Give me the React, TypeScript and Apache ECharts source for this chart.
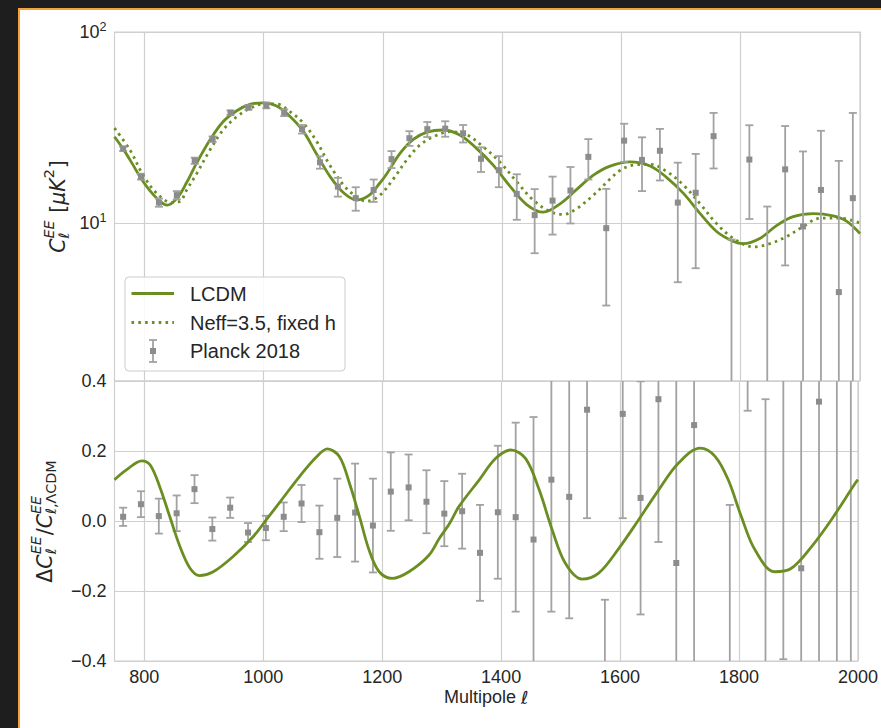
import React, { useEffect, useRef } from 'react';
import * as echarts from 'echarts';

// ---------- data ----------
const ell = [764.5, 794.5, 824.5, 854.5, 884.5, 914.5, 944.5, 974.5, 1004.5, 1034.5, 1064.5, 1094.5, 1124.5, 1154.5, 1184.5, 1214.5, 1244.5, 1274.5, 1304.5, 1334.5, 1364.5, 1394.5, 1424.5, 1454.5, 1484.5, 1514.5, 1544.5, 1574.5, 1604.5, 1634.5, 1664.5, 1694.5, 1724.5, 1754.5, 1784.5, 1814.5, 1844.5, 1874.5, 1904.5, 1934.5, 1964.5, 1988];
const clEE = [24.5, 17.5, 12.8, 14.0, 21.2, 27.5, 37.8, 40.3, 41.3, 37.8, 31.0, 20.8, 15.5, 13.5, 14.9, 21.6, 27.8, 31.0, 31.2, 29.5, 21.7, 18.9, 14.2, 11.0, 13.1, 14.8, 22.2, 9.4, 27.0, 21.4, 23.9, 12.8, 14.4, 28.5, -1.7, 21.5, 0.2, 19.1, 9.6, 14.9, 4.35, 13.5];
const clErr = [0.65, 0.62, 0.63, 0.69, 0.8, 0.92, 1.06, 1.12, 1.47, 1.53, 1.6, 1.55, 1.75, 1.9, 2.0, 2.2, 2.45, 2.8, 2.9, 3.1, 3.2, 3.5, 3.8, 4.05, 4.4, 4.85, 5.3, 5.7, 6.1, 6.7, 7.2, 7.9, 8.6, 9.2, 9.9, 11.0, 12.0, 13.1, 14.1, 15.5, 16.8, 24.2];
const resid = [0.012, 0.048, 0.014, 0.022, 0.091, -0.023, 0.038, -0.033, -0.02, 0.012, 0.05, -0.032, 0.009, 0.024, -0.013, 0.084, 0.096, 0.055, 0.021, 0.028, -0.091, 0.025, 0.011, -0.053, 0.118, 0.069, 0.318, -0.515, 0.306, 0.066, 0.348, -0.12, 0.274, 2.17, -1.21, 1.75, -0.98, 0.9, -0.135, 0.341, -0.59, 0.47];
const residErr = [0.026, 0.037, 0.05, 0.051, 0.04, 0.033, 0.029, 0.027, 0.035, 0.041, 0.053, 0.076, 0.112, 0.14, 0.134, 0.112, 0.094, 0.09, 0.093, 0.107, 0.137, 0.19, 0.27, 0.35, 0.377, 0.347, 0.31, 0.29, 0.298, 0.333, 0.408, 0.545, 0.76, 1.0, 1.256, 1.435, 1.328, 1.295, 1.27, 1.4, 1.57, 2.6];

const lcdmEll = [750, 765, 780, 795, 810, 825, 838, 855, 871, 888, 910, 932, 955, 977, 1000, 1022, 1044, 1067, 1089, 1111, 1134, 1156, 1176, 1195, 1206, 1229, 1251, 1274, 1301, 1329, 1357, 1385, 1413, 1441, 1469, 1497, 1525, 1553, 1580, 1614, 1648, 1676, 1704, 1732, 1760, 1788, 1804, 1832, 1860, 1888, 1922, 1955, 1978, 2000];
const lcdmCl = [28.3, 24.3, 20.4, 17.0, 14.7, 13.1, 12.4, 13.5, 16.3, 20.7, 27.2, 33.9, 38.7, 41.8, 42.6, 41.0, 36.2, 30.1, 22.9, 17.6, 14.4, 13.2, 13.9, 16.2, 18.0, 23.2, 27.4, 29.9, 30.7, 28.9, 24.6, 20.1, 15.6, 12.5, 11.4, 12.6, 15.0, 17.8, 19.8, 20.9, 19.9, 17.3, 14.3, 11.2, 9.0, 8.0, 7.8, 8.3, 9.7, 10.8, 11.2, 10.9, 10.2, 8.8];

const neffEll = [750, 776, 798, 821, 846, 860, 871, 888, 910, 932, 955, 977, 1000, 1022, 1044, 1067, 1089, 1111, 1134, 1156, 1173, 1195, 1218, 1240, 1262, 1285, 1313, 1341, 1368, 1396, 1424, 1452, 1480, 1503, 1525, 1553, 1581, 1598, 1620, 1648, 1676, 1704, 1732, 1760, 1788, 1821, 1849, 1877, 1905, 1933, 1966, 2000];
const neffCl = [31.4, 24.1, 17.8, 14.3, 12.8, 13.0, 14.9, 18.2, 24.1, 30.7, 36.0, 39.8, 42.0, 42.0, 38.3, 33.3, 26.7, 20.1, 15.8, 13.7, 13.0, 14.0, 17.1, 21.4, 25.6, 28.3, 30.1, 28.9, 25.1, 20.9, 16.5, 13.2, 11.5, 11.1, 11.9, 14.0, 17.0, 18.9, 20.1, 20.3, 18.6, 15.8, 12.6, 9.9, 8.3, 7.5, 7.8, 8.5, 9.6, 10.6, 10.6, 10.0];

const diffEll = [750, 770, 796, 810, 826, 843, 860, 877, 893, 916, 949, 983, 1005, 1033, 1061, 1089, 1108, 1128, 1145, 1162, 1178, 1195, 1217, 1245, 1279, 1296, 1313, 1329, 1363, 1391, 1416, 1441, 1464, 1486, 1508, 1536, 1564, 1598, 1631, 1665, 1698, 1735, 1760, 1782, 1804, 1827, 1860, 1888, 1922, 1955, 1997, 2000];
const diffVal = [0.118, 0.146, 0.172, 0.16, 0.098, 0.012, -0.073, -0.135, -0.156, -0.145, -0.102, -0.045, 0.003, 0.065, 0.127, 0.182, 0.206, 0.184, 0.108, 0.012, -0.083, -0.145, -0.164, -0.145, -0.097, -0.05, -0.008, 0.041, 0.117, 0.179, 0.203, 0.179, 0.089, -0.026, -0.121, -0.166, -0.149, -0.078, 0.003, 0.089, 0.165, 0.208, 0.184, 0.117, 0.012, -0.083, -0.145, -0.135, -0.073, 0.003, 0.112, 0.118];

const xTicks = [800, 1000, 1200, 1400, 1600, 1800, 2000];
const legendLabels = ['LCDM', 'Neff=3.5, fixed h', 'Planck 2018'];

// ---------- style ----------
const GREEN = '#6b8e23';
const GRID = '#cfcfcf';
const BAR = '#a2a2a2';
const MARK = '#8c8c8c';
const TXT = '#262626';
const SANS = '"Liberation Sans", Arial, sans-serif';
const MATH = '"DejaVu Sans"';
const CLEAR = 'rgba(0,0,0,0)';

const measureCtx = typeof document !== 'undefined' ? document.createElement('canvas').getContext('2d') : null;
function mFont(size: number, it?: boolean) {
  return `${it ? 'italic ' : ''}${size}px ${MATH}`;
}
function measure(t: string, size: number, it?: boolean) {
  if (!measureCtx) return t.length * size * 0.6;
  measureCtx.font = mFont(size, it);
  return measureCtx.measureText(t).width;
}

type Seg = { t: string; it?: boolean };
type Part = { main?: Seg; sup?: Seg[]; sub?: Seg[] };

function mathLabel(parts: Part[], size: number, cx: number, cy: number) {
  const small = size * 0.7;
  const supShift = -size * 0.42;
  const subShift = size * 0.3;
  const items: any[] = [];
  let x = 0;
  for (const p of parts) {
    if (p.main) {
      items.push({ t: p.main.t, x, y: 0, font: mFont(size, p.main.it) });
      x += measure(p.main.t, size, p.main.it);
    } else {
      let ws = 0;
      let wb = 0;
      for (const s of p.sup || []) {
        items.push({ t: s.t, x: x + ws, y: supShift, font: mFont(small, s.it) });
        ws += measure(s.t, small, s.it);
      }
      for (const s of p.sub || []) {
        items.push({ t: s.t, x: x + wb, y: subShift, font: mFont(small, s.it) });
        wb += measure(s.t, small, s.it);
      }
      x += Math.max(ws, wb) + 1;
    }
  }
  const total = x;
  return {
    type: 'group',
    x: cx,
    y: cy,
    rotation: Math.PI / 2,
    z: 100,
    children: items.map((it) => ({
      type: 'text',
      x: it.x - total / 2,
      y: it.y,
      style: { text: it.t, font: it.font, fill: TXT, align: 'left', verticalAlign: 'middle' },
    })),
  };
}

function makeErr(isLog: boolean) {
  return (params: any, api: any) => {
    const x = api.value(0);
    const v = api.value(1);
    const e = api.value(2);
    const hi = v + e;
    let lo = v - e;
    if (isLog && lo <= 0) lo = 1e-3;
    const a = api.coord([x, hi]);
    const b = api.coord([x, lo]);
    const cw = 4;
    const style = { stroke: BAR, lineWidth: 1.8 };
    return {
      type: 'group',
      children: [
        { type: 'line', shape: { x1: a[0], y1: a[1], x2: b[0], y2: b[1] }, style },
        { type: 'line', shape: { x1: a[0] - cw, y1: a[1], x2: a[0] + cw, y2: a[1] }, style },
        { type: 'line', shape: { x1: b[0] - cw, y1: b[1], x2: b[0] + cw, y2: b[1] }, style },
      ],
    };
  };
}

export default function App() {
  const ref = useRef<HTMLDivElement>(null);
  useEffect(() => {
    document.documentElement.style.overflow = 'hidden';
    document.body.style.margin = '0';
    document.body.style.overflow = 'hidden';
    if (!ref.current) return;
    const chart = echarts.init(ref.current, null, { renderer: 'svg' });

    const xCommon = {
      type: 'value',
      min: 750,
      max: 2000,
      interval: 50,
      axisLine: { show: false },
      axisTick: { show: false },
      splitLine: { show: true, lineStyle: { color: [CLEAR, GRID, CLEAR, CLEAR], width: 1.2 } },
    };

    const topLabel = mathLabel(
      [
        { main: { t: 'C', it: true } },
        { sup: [{ t: 'EE', it: true }], sub: [{ t: 'ℓ', it: true }] },
        { main: { t: ' [' } },
        { main: { t: 'μK', it: true } },
        { sup: [{ t: '2' }] },
        { main: { t: ']' } },
      ],
      20.5,
      58,
      206.5
    );
    const botLabel = mathLabel(
      [
        { main: { t: 'Δ' } },
        { main: { t: 'C', it: true } },
        { sup: [{ t: 'EE', it: true }], sub: [{ t: 'ℓ', it: true }] },
        { main: { t: '/' } },
        { main: { t: 'C', it: true } },
        { sup: [{ t: 'EE', it: true }], sub: [{ t: 'ℓ', it: true }, { t: ',ΛCDM' }] },
      ],
      20.5,
      45,
      521
    );

    const lx = 131.5;
    const lx2 = 174;
    const rows = [293.5, 322.5, 351];
    const legend = [
      {
        type: 'rect',
        z: 90,
        shape: { x: 125, y: 277, width: 220, height: 94, r: 4 },
        style: { fill: 'rgba(255,255,255,0.85)', stroke: '#cccccc', lineWidth: 1 },
      },
      { type: 'line', z: 91, shape: { x1: lx, y1: rows[0], x2: lx2, y2: rows[0] }, style: { stroke: GREEN, lineWidth: 2.8 } },
      {
        type: 'line',
        z: 91,
        shape: { x1: lx, y1: rows[1], x2: lx2, y2: rows[1] },
        style: { stroke: GREEN, lineWidth: 2.8, lineDash: [2.6, 4.2] },
      },
      { type: 'line', z: 91, shape: { x1: 153, y1: rows[2] - 11, x2: 153, y2: rows[2] + 11 }, style: { stroke: BAR, lineWidth: 1.8 } },
      { type: 'line', z: 91, shape: { x1: 149, y1: rows[2] - 11, x2: 157, y2: rows[2] - 11 }, style: { stroke: BAR, lineWidth: 1.8 } },
      { type: 'line', z: 91, shape: { x1: 149, y1: rows[2] + 11, x2: 157, y2: rows[2] + 11 }, style: { stroke: BAR, lineWidth: 1.8 } },
      { type: 'rect', z: 92, shape: { x: 150, y: rows[2] - 3, width: 6, height: 6 }, style: { fill: MARK } },
      ...legendLabels.map((t, i) => ({
        type: 'text',
        z: 92,
        x: 190,
        y: rows[i],
        style: { text: t, font: `20px ${SANS}`, fill: TXT, align: 'left', verticalAlign: 'middle' },
      })),
    ];

    const option: any = {
      animation: false,
      backgroundColor: 'transparent',
      grid: [
        { left: 114.5, width: 745.5, top: 32, height: 349, show: true, borderColor: GRID, borderWidth: 1.2 },
        { left: 114.5, width: 745.5, top: 381, height: 280, show: true, borderColor: GRID, borderWidth: 1.2 },
      ],
      xAxis: [
        { ...xCommon, gridIndex: 0, axisLabel: { show: false } },
        {
          ...xCommon,
          gridIndex: 1,
          axisLabel: {
            show: true,
            margin: 7,
            fontSize: 18,
            fontFamily: SANS,
            color: TXT,
            formatter: (v: number) => (xTicks.includes(v) ? String(v) : ''),
          },
          name: '{a|Multipole }{b|ℓ}',
          nameLocation: 'middle',
          nameGap: 27,
          nameTextStyle: {
            rich: {
              a: { fontSize: 18, fontFamily: SANS, color: TXT },
              b: { fontSize: 18, fontFamily: MATH, fontStyle: 'italic', color: TXT },
            },
          },
        },
      ],
      yAxis: [
        {
          type: 'log',
          logBase: 10,
          gridIndex: 0,
          min: 1.49,
          max: 100,
          axisLine: { show: false },
          axisTick: { show: false },
          splitLine: { show: true, lineStyle: { color: GRID, width: 1.2 } },
          axisLabel: {
            margin: 8,
            formatter: (v: number) => {
              const l = Math.log10(v);
              const e = Math.round(l);
              if (Math.abs(l - e) > 1e-6) return '';
              return `{b|10}{s|${e}}`;
            },
            rich: {
              b: { fontSize: 18, fontFamily: SANS, color: TXT, lineHeight: 24, verticalAlign: 'middle' },
              s: { fontSize: 12.6, fontFamily: SANS, color: TXT, lineHeight: 15, verticalAlign: 'top' },
            },
          },
        },
        {
          type: 'value',
          gridIndex: 1,
          min: -0.4,
          max: 0.4,
          interval: 0.2,
          axisLine: { show: false },
          axisTick: { show: false },
          splitLine: { show: true, lineStyle: { color: GRID, width: 1.2 } },
          axisLabel: {
            margin: 8,
            fontSize: 18,
            fontFamily: SANS,
            color: TXT,
            formatter: (v: number) => v.toFixed(1).replace('-0.0', '0.0').replace('-', '\u2212'),
          },
        },
      ],
      series: [
        {
          type: 'line',
          xAxisIndex: 0,
          yAxisIndex: 0,
          data: lcdmEll.map((l, i) => [l, lcdmCl[i]]),
          showSymbol: false,
          smooth: 0.35,
          clip: true,
          lineStyle: { color: GREEN, width: 2.8 },
          z: 2,
        },
        {
          type: 'line',
          xAxisIndex: 0,
          yAxisIndex: 0,
          data: neffEll.map((l, i) => [l, neffCl[i]]),
          showSymbol: false,
          smooth: 0.35,
          clip: true,
          lineStyle: { color: GREEN, width: 2.8, type: [2.6, 4.2], cap: 'butt' },
          z: 2,
        },
        {
          type: 'custom',
          xAxisIndex: 0,
          yAxisIndex: 0,
          clip: true,
          renderItem: makeErr(true),
          encode: { x: 0, y: 1 },
          data: ell.map((l, i) => [l, clEE[i], clErr[i]]),
          z: 3,
        },
        {
          type: 'scatter',
          xAxisIndex: 0,
          yAxisIndex: 0,
          symbol: 'rect',
          symbolSize: 6,
          clip: true,
          itemStyle: { color: MARK, opacity: 1 },
          data: ell.map((l, i) => [l, clEE[i]]).filter((d) => d[1] > 0),
          z: 4,
        },
        {
          type: 'custom',
          xAxisIndex: 1,
          yAxisIndex: 1,
          clip: true,
          renderItem: makeErr(false),
          encode: { x: 0, y: 1 },
          data: ell.map((l, i) => [l, resid[i], residErr[i]]),
          z: 2,
        },
        {
          type: 'scatter',
          xAxisIndex: 1,
          yAxisIndex: 1,
          symbol: 'rect',
          symbolSize: 6,
          clip: true,
          itemStyle: { color: MARK, opacity: 1 },
          data: ell.map((l, i) => [l, resid[i]]),
          z: 3,
        },
        {
          type: 'line',
          xAxisIndex: 1,
          yAxisIndex: 1,
          data: diffEll.map((l, i) => [l, diffVal[i]]),
          showSymbol: false,
          smooth: 0.35,
          clip: true,
          lineStyle: { color: GREEN, width: 2.8 },
          z: 4,
        },
      ],
      graphic: [topLabel, botLabel, ...legend],
    };

    chart.setOption(option);
    return () => chart.dispose();
  }, []);

  return (
    <div style={{ position: 'fixed', left: 0, top: 0, width: 881, height: 728, overflow: 'hidden', background: '#1e1e1e' }}>
      <div
        style={{
          position: 'absolute',
          left: 18,
          top: 8,
          width: 900,
          height: 760,
          background: '#ffffff',
          borderLeft: '2px solid #f2a33a',
          borderTop: '2px solid #f2a33a',
        }}
      />
      <div ref={ref} style={{ position: 'absolute', left: 0, top: 0, width: 881, height: 728 }} />
    </div>
  );
}
